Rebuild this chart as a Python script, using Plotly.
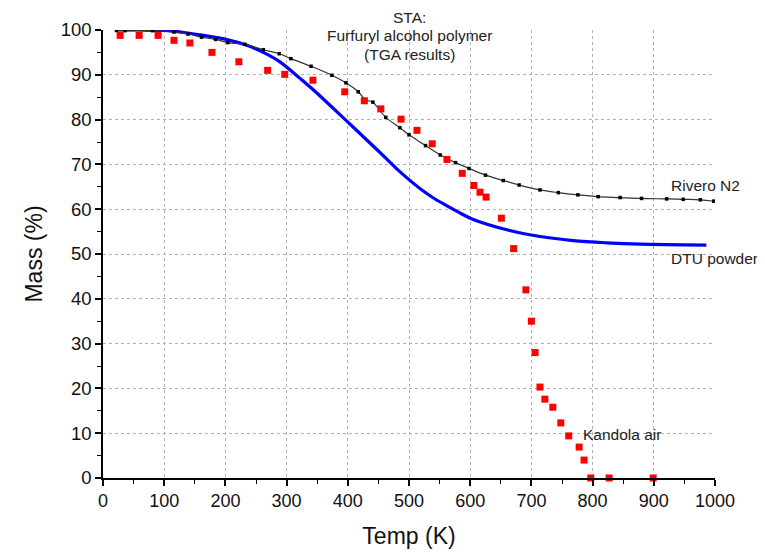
import plotly.graph_objects as go

# Kandola air (red squares)
kandola_T = [28, 59, 90, 116, 142, 178, 222, 269, 297, 343, 395, 427, 454, 487, 513, 538,
             562, 587, 606, 616, 626, 651, 671, 691, 700, 706, 714, 722, 735, 748, 761, 778, 786,
             797, 827, 899]
kandola_M = [98.8, 98.8, 98.8, 97.7, 97.1, 95.0, 92.9, 91.0, 90.1, 88.8, 86.2, 84.2, 82.4, 80.1, 77.6, 74.6,
             71.1, 68.0, 65.3, 63.8, 62.7, 58.0, 51.2, 42.0, 35.0, 28.0, 20.3, 17.6, 15.8, 12.3, 9.4, 6.9, 4.0,
             0.0, 0.0, 0.0]

# Rivero N2 (black line with dots)
rivero_T = [22, 36, 81, 116, 139, 161, 184, 204, 232, 262, 288, 307, 340, 374, 397, 417, 429, 441, 452, 462,
            485, 500, 527, 551, 576, 598, 625, 654, 680, 714, 744, 776, 809, 845, 880, 921, 948, 976, 998]
rivero_M = [99.9, 99.85, 99.85, 99.55, 99.1, 98.4, 97.9, 97.2, 96.8, 95.6, 94.7, 93.6, 91.9, 89.9, 88.2, 86.2,
            84.4, 83.9, 82.1, 80.5, 78.2, 76.6, 74.2, 72.1, 70.4, 69.1, 67.6, 66.4, 65.4, 64.3, 63.7, 63.2,
            62.8, 62.6, 62.4, 62.3, 62.2, 62.1, 61.8]

# DTU powder (blue)
dtu_T = [20, 60, 100, 130, 159, 204, 235, 262, 289, 322, 344, 398, 453, 480, 500, 520, 540, 560, 580, 605,
         660, 714, 768, 823, 877, 986]
dtu_M = [100, 100, 99.9, 99.5, 98.9, 97.8, 96.6, 95.0, 92.9, 89.2, 86.6, 79.7, 72.6, 69.0, 66.6, 64.4,
         62.5, 60.9, 59.4, 57.7, 55.4, 53.9, 53.0, 52.5, 52.2, 52.0]

x_ticks = list(range(0, 1001, 100))
y_ticks = list(range(0, 101, 10))

fig = go.Figure()
fig.add_trace(go.Scatter(x=dtu_T, y=dtu_M, mode="lines", line=dict(color="#0000ff", width=3.2, shape="spline"),
                         name="DTU powder", showlegend=False))
fig.add_trace(go.Scatter(x=rivero_T, y=rivero_M, mode="lines+markers",
                         line=dict(color="#333333", width=1.2, shape="spline"),
                         marker=dict(symbol="square", size=3.5, color="#000000"),
                         name="Rivero N2", showlegend=False))
fig.add_trace(go.Scatter(x=kandola_T, y=kandola_M, mode="markers",
                         marker=dict(symbol="square", size=7, color="#ff0000"),
                         name="Kandola air", showlegend=False, cliponaxis=False))

tickfont = dict(family="Liberation Sans Narrow, Arial Narrow, Liberation Sans, Arial", size=18, color="#111111")
fig.update_xaxes(range=[0, 1000], tickvals=x_ticks, ticktext=[str(v) for v in x_ticks], automargin=False,
                 showline=True, linecolor="#000000", linewidth=1.5, ticks="outside", ticklen=6,
                 tickwidth=1.5, tickcolor="#000000", tickfont=tickfont,
                 showgrid=True, gridcolor="#b0b0b0", griddash="dot", gridwidth=1, zeroline=False,
                 minor=dict(dtick=50, ticks="outside", ticklen=4, tickwidth=1.2, tickcolor="#000000", showgrid=False),
                 title=dict(text="Temp (K)", font=dict(family="Liberation Sans, Arial", size=23, color="#111111"),
                            standoff=18))
fig.update_yaxes(range=[0, 100], tickvals=y_ticks, ticktext=[str(v) for v in y_ticks], automargin=False,
                 showline=True, linecolor="#000000", linewidth=1.5, ticks="outside", ticklen=6,
                 tickwidth=1.5, tickcolor="#000000",
                 tickfont=dict(family="Liberation Sans, Arial", size=18.5, color="#111111"),
                 showgrid=True, gridcolor="#b0b0b0", griddash="dot", gridwidth=1, zeroline=False,
                 minor=dict(dtick=5, ticks="outside", ticklen=4, tickwidth=1.2, tickcolor="#000000", showgrid=False),
                 title=dict(text="Mass (%)", font=dict(family="Liberation Sans, Arial", size=23, color="#111111"),
                            standoff=12))

lab_font = dict(family="Liberation Sans, Arial", size=15.5, color="#222222")
title_lines = ["STA:", "Furfuryl alcohol polymer", "(TGA results)"]
title_shifts = [13, -5.5, -24]
for txt, sh in zip(title_lines, title_shifts):
    fig.add_annotation(x=501, xref="x", y=1, yref="paper", yanchor="middle", yshift=sh,
                       showarrow=False, text=txt, font=lab_font)
fig.add_annotation(x=925, y=65.2, xanchor="left", showarrow=False, text="Rivero N2", font=lab_font)
fig.add_annotation(x=925, y=49.1, xanchor="left", showarrow=False, text="DTU powder", font=lab_font)
fig.add_annotation(x=915, y=9.6, xanchor="right", showarrow=False, text="Kandola air", font=lab_font)

fig.update_layout(width=765, height=553, margin=dict(l=95, r=58, t=22, b=83),
                  plot_bgcolor="#ffffff", paper_bgcolor="#ffffff", showlegend=False)
fig.write_html("out.html")
